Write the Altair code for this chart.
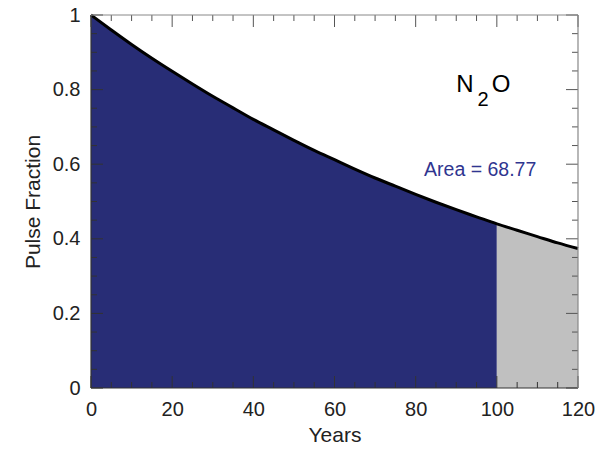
import altair as alt
import pandas as pd

# Values
years = [0, 5, 10, 15, 20, 25, 30, 35, 40, 45, 50, 55, 60, 65, 70, 75, 80, 85, 90, 95, 100, 105, 110, 115, 120]
fraction = [1.000, 0.960, 0.921, 0.884, 0.849, 0.815, 0.782, 0.751, 0.720, 0.692, 0.664, 0.637,
            0.612, 0.587, 0.563, 0.541, 0.519, 0.498, 0.478, 0.459, 0.440, 0.423, 0.406, 0.389, 0.374]
x_major = [0, 20, 40, 60, 80, 100, 120]
x_minor = [5, 10, 15, 25, 30, 35, 45, 50, 55, 65, 70, 75, 85, 90, 95, 105, 110, 115]
y_major = [0, 0.2, 0.4, 0.6, 0.8, 1.0]
y_minor = [0.05, 0.1, 0.15, 0.25, 0.3, 0.35, 0.45, 0.5, 0.55, 0.65, 0.7, 0.75, 0.85, 0.9, 0.95]
area_label = "Area = 68.77"
area_label_pos = (95.9, 0.584)

W, H = 487, 373
FONT = "Liberation Sans"

df = pd.DataFrame({"year": years, "frac": fraction})
xs = alt.Scale(domain=[0, 120], nice=False)
ys = alt.Scale(domain=[0, 1], nice=False)

base = alt.Chart(df)

blue = base.transform_filter("datum.year <= 100").mark_area(
    color="#282d76", interpolate="monotone").encode(
    x=alt.X("year:Q", scale=xs, title="Years", axis=alt.Axis(values=x_major)),
    y=alt.Y("frac:Q", scale=ys, title="Pulse Fraction", axis=alt.Axis(values=y_major, format="~g")),
)
gray = base.transform_filter("datum.year >= 100").mark_area(
    color="#c0c0c0", interpolate="monotone").encode(
    x=alt.X("year:Q", scale=xs), y=alt.Y("frac:Q", scale=ys))

line = base.mark_line(color="black", strokeWidth=3, interpolate="monotone").encode(
    x=alt.X("year:Q", scale=xs), y=alt.Y("frac:Q", scale=ys))

def xticks(vals, length):
    d = alt.Chart(pd.DataFrame({"year": vals}))
    bot = d.mark_rule(color="#333", strokeWidth=1).encode(
        x=alt.X("year:Q", scale=xs), y=alt.value(H), y2=alt.value(H - length))
    top = d.mark_rule(color="#555", strokeWidth=1).encode(
        x=alt.X("year:Q", scale=xs), y=alt.value(0), y2=alt.value(length))
    return bot + top

def yticks(vals, length):
    d = alt.Chart(pd.DataFrame({"frac": vals}))
    left = d.mark_rule(color="#333", strokeWidth=1).encode(
        y=alt.Y("frac:Q", scale=ys), x=alt.value(0), x2=alt.value(length))
    right = d.mark_rule(color="#555", strokeWidth=1).encode(
        y=alt.Y("frac:Q", scale=ys), x=alt.value(W), x2=alt.value(W - length))
    return left + right

ticks = xticks(x_major, 12) + xticks(x_minor, 6) + yticks(y_major, 12) + yticks(y_minor, 6)

one = pd.DataFrame({"a": [0]})
frame_bottom = alt.Chart(one).mark_rule(color="#333", strokeWidth=1.2).encode(
    x=alt.value(0), x2=alt.value(W), y=alt.value(H))
frame_left = alt.Chart(one).mark_rule(color="#333", strokeWidth=1.2).encode(
    x=alt.value(0), y=alt.value(0), y2=alt.value(H))
frame_top = alt.Chart(one).mark_rule(color="#888", strokeWidth=1).encode(
    x=alt.value(0), x2=alt.value(W), y=alt.value(0))
frame_right = alt.Chart(one).mark_rule(color="#888", strokeWidth=1.2).encode(
    x=alt.value(W), y=alt.value(0), y2=alt.value(H))

area_text = alt.Chart(one).mark_text(
    text=area_label, fontSize=19.5, color="#2f3590", font=FONT, align="center", baseline="middle").encode(
    x=alt.datum(area_label_pos[0], scale=xs), y=alt.datum(area_label_pos[1], scale=ys))

t_n = alt.Chart(one).mark_text(
    text="N", fontSize=24, color="black", font=FONT, align="center", baseline="alphabetic").encode(
    x=alt.value(374), y=alt.value(77))
t_2 = alt.Chart(one).mark_text(
    text="2", fontSize=20, color="black", font=FONT, align="center", baseline="alphabetic").encode(
    x=alt.value(392), y=alt.value(91))
t_o = alt.Chart(one).mark_text(
    text="O", fontSize=24, color="black", font=FONT, align="center", baseline="alphabetic").encode(
    x=alt.value(410), y=alt.value(77))

chart = alt.layer(
    blue, gray, line, ticks, frame_bottom, frame_left, frame_top, frame_right,
    area_text, t_n, t_2, t_o
).properties(
    width=W, height=H,
    autosize=alt.AutoSizeParams(type="none"),
    padding={"left": 91, "top": 15, "right": 17, "bottom": 62},
    background="white",
).configure_view(stroke=None).configure_axis(
    ticks=False, domain=False, grid=False, labelFlush=False, labelOverlap=False,
    labelFontSize=20, labelColor="#222", labelFont=FONT,
    titleFontSize=21, titleColor="#222", titleFont=FONT, titleFontWeight="normal",
).configure_axisX(labelPadding=11, titlePadding=5).configure_axisY(labelPadding=11, titlePadding=9)

chart.save("out.html", embed_options={"renderer": "svg", "actions": False})
